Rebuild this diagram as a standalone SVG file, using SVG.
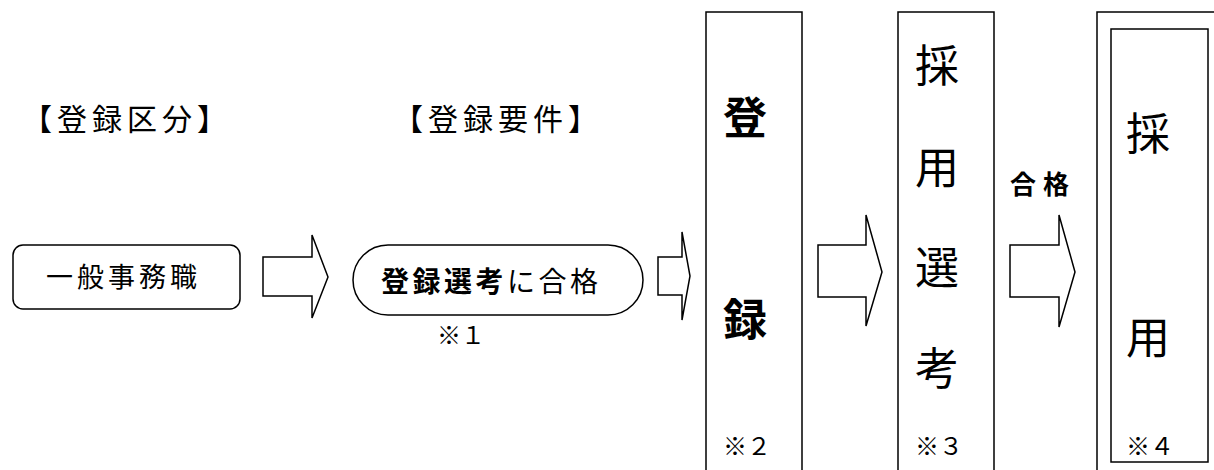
<svg xmlns="http://www.w3.org/2000/svg" width="1214" height="470" viewBox="0 0 1214 470">
<style>
text{font-family:"Noto Sans CJK JP","Noto Sans CJK SC",sans-serif;fill:#000}
.shape{fill:#fff;stroke:#000;stroke-width:1.5}
.hdr{font-size:30px;letter-spacing:5px}
.lbl{font-size:27px;letter-spacing:4px}
.note{font-size:24px}
.big{font-size:44px}
.b{font-weight:bold}
</style>
<rect width="1214" height="470" fill="#fff"/>
<g id="headers">
<text class="hdr" x="22" y="130">【登録区分】</text>
<text class="hdr" x="393" y="130">【登録要件】</text>
</g>
<g id="node-ippan">
<rect class="shape" x="13" y="245" width="227" height="64" rx="10"/>
<text class="lbl" x="46" y="287">一般事務職</text>
</g>
<g id="node-senko">
<rect class="shape" x="353" y="245" width="290" height="70" rx="35"/>
<text x="381" y="292" style="font-size:28px;letter-spacing:3.5px"><tspan class="b">登録選考</tspan>に合格</text>
<text class="note" x="437" y="344">※１</text>
</g>
<g id="node-toroku">
<path class="shape" d="M706,472 V12 H802 V472"/>
<text class="big b" x="723" y="134">登</text>
<text class="big b" x="723" y="336">録</text>
<text class="note" x="723" y="455">※２</text>
</g>
<g id="node-saiyosenko">
<path class="shape" d="M898,472 V12 H994 V472"/>
<text class="big" x="915" y="82">採</text>
<text class="big" x="915" y="184">用</text>
<text class="big" x="915" y="284">選</text>
<text class="big" x="915" y="385">考</text>
<text class="note" x="915" y="455">※３</text>
</g>
<g id="node-saiyo">
<path class="shape" d="M1097,472 V12 H1220"/>
<rect class="shape" x="1111" y="29" width="97" height="433"/>
<text class="big" x="1126" y="150">採</text>
<text class="big" x="1126" y="354">用</text>
<text class="note" x="1126" y="455">※４</text>
</g>
<g id="connectors">
<path class="shape" d="M263,257 H312 V235 L328,277 L312,318 V296 H263 Z"/>
<path class="shape" d="M658,257 H682 V232 L690,276 L682,320 V295 H658 Z"/>
<path class="shape" d="M818,245 H866 V215 L882,272 L866,326 V297 H818 Z"/>
<path class="shape" d="M1010,245 H1059 V215 L1075,272 L1059,327 V297 H1010 Z"/>
<text class="b" x="1010" y="194" style="font-size:26px;letter-spacing:7px">合格</text>
</g>
</svg>
